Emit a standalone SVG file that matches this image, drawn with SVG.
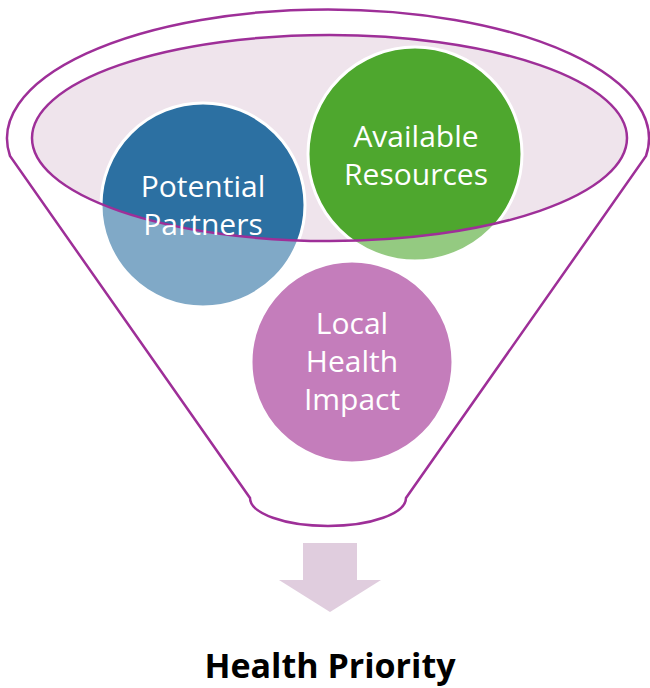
<svg xmlns="http://www.w3.org/2000/svg" width="650" height="688" viewBox="0 0 650 688">
<style>
.funnel-line{fill:none;stroke:#9E2F98;stroke-width:2.5}
.circle{stroke:#FFFFFF;stroke-width:3}
.label{font-family:"Open Sans","Liberation Sans",sans-serif;font-size:30px;fill:#FFFFFF;text-anchor:middle}
.title{font-family:"Open Sans","Liberation Sans",sans-serif;font-size:34px;font-weight:bold;fill:#000000;text-anchor:middle}
</style>
<rect width="650" height="688" fill="#FFFFFF"/>
<g id="funnel-back">
<path d="M 10 156 A 321 129 0 1 1 646 156 L 406 498 A 78 28 0 0 1 250 498 Z" fill="#FFFFFF"/>
<ellipse cx="329.5" cy="138" rx="297.5" ry="103" fill="#EFE4EC"/>
</g>
<g id="node-partners">
<circle class="circle" cx="203" cy="205" r="102" fill="#2C70A2"/>
</g>
<g id="node-resources">
<circle class="circle" cx="415" cy="154" r="107" fill="#4EA72E"/>
</g>
<g id="funnel-front">
<path d="M 10 156 A 321 129 0 1 1 646 156 L 406 498 A 78 28 0 0 1 250 498 Z M 32 138 A 297.5 103 0 1 0 627 138 A 297.5 103 0 1 0 32 138 Z" fill="#FFFFFF" fill-opacity="0.4" fill-rule="evenodd"/>
<path class="funnel-line" d="M 10 156 A 321 129 0 1 1 646 156 L 406 498 A 78 28 0 0 1 250 498 Z"/>
<ellipse class="funnel-line" cx="329.5" cy="138" rx="297.5" ry="103"/>
</g>
<g id="node-partners-label">
<text class="label" x="203" y="197">Potential</text>
<text class="label" x="203" y="235">Partners</text>
</g>
<g id="node-resources-label">
<text class="label" x="416" y="147">Available</text>
<text class="label" x="416" y="185">Resources</text>
</g>
<g id="node-impact">
<circle class="circle" cx="352" cy="362" r="101" fill="#C47DBB"/>
<text class="label" x="352" y="334">Local</text>
<text class="label" x="352" y="372">Health</text>
<text class="label" x="352" y="410">Impact</text>
</g>
<g id="connectors">
<path d="M 303 543 L 357 543 L 357 580 L 381 580 L 330 612 L 279 580 L 303 580 Z" fill="#E0CDDE"/>
</g>
<g id="node-result">
<text class="title" x="330" y="678">Health Priority</text>
</g>
</svg>
